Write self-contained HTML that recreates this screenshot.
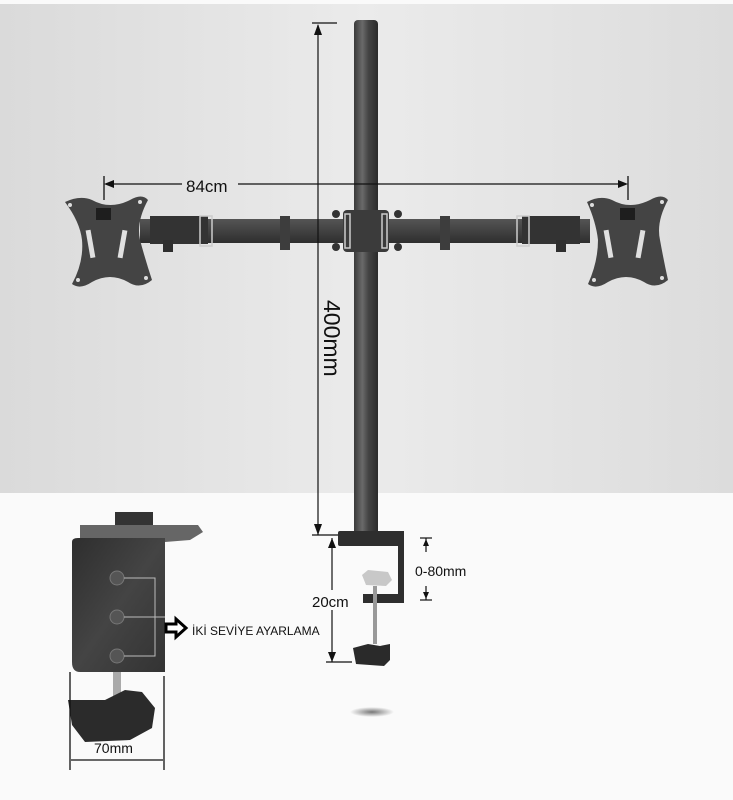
<!DOCTYPE html>
<html><head><meta charset="utf-8"><style>
html,body{margin:0;padding:0;background:#fff;}
svg{display:block;font-family:"Liberation Sans",sans-serif;}
</style></head><body>
<svg width="733" height="800" viewBox="0 0 733 800" xmlns="http://www.w3.org/2000/svg">
<defs>
<linearGradient id="bg" x1="0" x2="1" y1="0" y2="0">
<stop offset="0" stop-color="#dadada"/><stop offset="0.5" stop-color="#ebebeb"/><stop offset="1" stop-color="#dcdcdc"/>
</linearGradient>
<linearGradient id="pole" x1="0" x2="1">
<stop offset="0" stop-color="#3a3a3a"/><stop offset="0.35" stop-color="#6a6a6a"/><stop offset="0.6" stop-color="#444"/><stop offset="1" stop-color="#2a2a2a"/>
</linearGradient>
<linearGradient id="arm" x1="0" y1="0" x2="0" y2="1">
<stop offset="0" stop-color="#555"/><stop offset="1" stop-color="#2e2e2e"/>
</linearGradient>
<radialGradient id="sh"><stop offset="0" stop-color="#777"/><stop offset="1" stop-color="#fafafa"/></radialGradient>
<linearGradient id="clamp" x1="0" y1="0" x2="1" y2="1">
<stop offset="0" stop-color="#2e2e2e"/><stop offset="0.5" stop-color="#444"/><stop offset="1" stop-color="#333"/>
</linearGradient>
</defs>
<rect width="733" height="800" fill="#fafafa"/>
<rect x="0" y="4" width="733" height="489" fill="url(#bg)"/>
<!-- pole -->
<rect x="354" y="20" width="24" height="515" rx="4" fill="url(#pole)"/>
<!-- arms -->
<rect x="140" y="219" width="450" height="24" fill="url(#arm)"/>
<rect x="150" y="216" width="58" height="28" fill="#333"/>
<rect x="522" y="216" width="58" height="28" fill="#333"/>
<rect x="200" y="216" width="12" height="30" fill="none" stroke="#ccc" stroke-width="1.5"/>
<rect x="517" y="216" width="12" height="30" fill="none" stroke="#ccc" stroke-width="1.5"/>
<rect x="280" y="216" width="10" height="34" fill="#3d3d3d"/>
<rect x="440" y="216" width="10" height="34" fill="#3d3d3d"/>
<rect x="163" y="240" width="10" height="12" fill="#2e2e2e"/>
<rect x="556" y="240" width="10" height="12" fill="#2e2e2e"/>
<rect x="343" y="210" width="46" height="42" rx="4" fill="#3b3b3b"/>
<rect x="345" y="214" width="5" height="34" fill="none" stroke="#ccc" stroke-width="1.5"/>
<rect x="382" y="214" width="5" height="34" fill="none" stroke="#ccc" stroke-width="1.5"/>
<circle cx="336" cy="214" r="4" fill="#333"/><circle cx="398" cy="214" r="4" fill="#333"/>
<circle cx="336" cy="247" r="4" fill="#333"/><circle cx="398" cy="247" r="4" fill="#333"/>
<!-- left plate -->
<path d="M65,202 Q80,195 92,200 Q110,210 130,200 Q142,193 148,200 Q136,222 140,240 Q146,262 152,280 Q140,290 128,282 Q110,272 92,282 Q80,290 72,284 Q84,262 82,240 Q80,222 65,202Z" fill="#444"/>
<rect x="96" y="208" width="15" height="12" fill="#1e1e1e"/>
<rect x="88" y="230" width="5" height="28" fill="#e0e0e0" transform="rotate(-10 90 244)"/>
<rect x="120" y="230" width="5" height="28" fill="#e0e0e0" transform="rotate(10 122 244)"/>
<g fill="#ddd"><circle cx="70" cy="205" r="2"/><circle cx="140" cy="202" r="2"/><circle cx="78" cy="280" r="2"/><circle cx="146" cy="278" r="2"/></g>
<!-- right plate -->
<path d="M587,202 Q600,195 612,200 Q630,210 650,200 Q662,193 668,200 Q656,222 660,240 Q664,262 668,280 Q656,290 644,282 Q626,272 608,282 Q596,290 588,284 Q598,262 598,240 Q596,222 587,202Z" fill="#444"/>
<rect x="620" y="208" width="15" height="12" fill="#1e1e1e"/>
<rect x="606" y="230" width="5" height="28" fill="#e0e0e0" transform="rotate(-10 608 244)"/>
<rect x="638" y="230" width="5" height="28" fill="#e0e0e0" transform="rotate(10 640 244)"/>
<g fill="#ddd"><circle cx="592" cy="205" r="2"/><circle cx="662" cy="202" r="2"/><circle cx="594" cy="280" r="2"/><circle cx="662" cy="278" r="2"/></g>
<!-- 84cm dimension -->
<g stroke="#111" stroke-width="1.3" fill="#111">
<line x1="104" y1="176" x2="104" y2="200"/><line x1="628" y1="176" x2="628" y2="200"/>
<line x1="106" y1="184" x2="182" y2="184"/><line x1="238" y1="184" x2="626" y2="184"/>
<polygon points="104,184 114,180 114,188" stroke="none"/><polygon points="628,184 618,180 618,188" stroke="none"/>
</g>
<text x="186" y="192" font-size="17" fill="#111">84cm</text>
<!-- 400mm -->
<g stroke="#111" stroke-width="1.2" fill="#111">
<line x1="312" y1="23" x2="337" y2="23"/><line x1="318" y1="25" x2="318" y2="535"/>
<line x1="312" y1="535" x2="338" y2="535"/>
<polygon points="318,24 314,35 322,35" stroke="none"/><polygon points="318,535 314,524 322,524" stroke="none"/>
</g>
<text transform="translate(324,300) rotate(90)" font-size="23" fill="#111">400mm</text>
<!-- clamp right -->
<rect x="338" y="531" width="66" height="15" rx="2" fill="#2e2e2e"/>
<rect x="398" y="531" width="6" height="72" fill="#2e2e2e"/>
<rect x="363" y="594" width="41" height="9" fill="#2e2e2e"/>
<path d="M362,575 L368,570 L388,572 L392,580 L386,586 L366,585Z" fill="#c8c8c8"/>
<rect x="373" y="586" width="4" height="58" fill="#999"/>
<path d="M353,648 L368,644 L380,646 L390,644 L390,660 L384,666 L356,664Z" fill="#2a2a2a"/>
<ellipse cx="372" cy="712" rx="22" ry="5" fill="url(#sh)"/>
<!-- 20cm -->
<g stroke="#111" stroke-width="1.2" fill="#111">
<line x1="332" y1="538" x2="332" y2="662"/><line x1="326" y1="662" x2="352" y2="662"/>
<polygon points="332,538 328,548 336,548" stroke="none"/><polygon points="332,662 328,652 336,652" stroke="none"/>
<line x1="420" y1="538" x2="432" y2="538"/><line x1="426" y1="538" x2="426" y2="552"/>
<polygon points="426,539 423,546 429,546" stroke="none"/>
<line x1="420" y1="600" x2="432" y2="600"/><line x1="426" y1="586" x2="426" y2="600"/>
<polygon points="426,599 423,592 429,592" stroke="none"/>
</g>
<rect x="311" y="590" width="42" height="20" fill="#fafafa"/>
<text x="312" y="607" font-size="15" fill="#111">20cm</text>
<text x="415" y="576" font-size="14" fill="#111">0-80mm</text>
<!-- inset clamp -->
<rect x="115" y="512" width="38" height="30" fill="#333"/>
<path d="M80,525 L198,525 L203,532 L190,540 L165,542 L80,540Z" fill="#666"/>
<path d="M72,542 Q72,538 78,538 L165,538 L165,672 L80,672 Q72,672 72,662Z" fill="url(#clamp)"/>
<circle cx="117" cy="578" r="7" fill="#555" stroke="#777"/><circle cx="117" cy="617" r="7" fill="#555" stroke="#777"/><circle cx="117" cy="656" r="7" fill="#555" stroke="#777"/>
<polyline points="124,578 155,578 155,656 124,656" fill="none" stroke="#bbb" stroke-width="1"/>
<line x1="124" y1="617" x2="165" y2="617" stroke="#bbb"/>
<rect x="113" y="672" width="8" height="30" fill="#aaa"/>
<path d="M68,700 L105,700 L125,690 L142,692 L155,708 L152,728 L130,740 L85,742 L72,725Z" fill="#2b2b2b"/>
<g stroke="#111" stroke-width="1.3">
<line x1="70" y1="672" x2="70" y2="770"/><line x1="164" y1="676" x2="164" y2="770"/>
<line x1="71" y1="760" x2="163" y2="760"/>
</g>
<text x="94" y="753" font-size="14" fill="#111">70mm</text>
<path d="M166,624 L176,624 L176,619 L186,628 L176,637 L176,632 L166,632Z" fill="#fff" stroke="#000" stroke-width="3"/>
<text x="192" y="635" font-size="12" fill="#111">İKİ SEVİYE AYARLAMA</text>
</svg>
</body></html>
